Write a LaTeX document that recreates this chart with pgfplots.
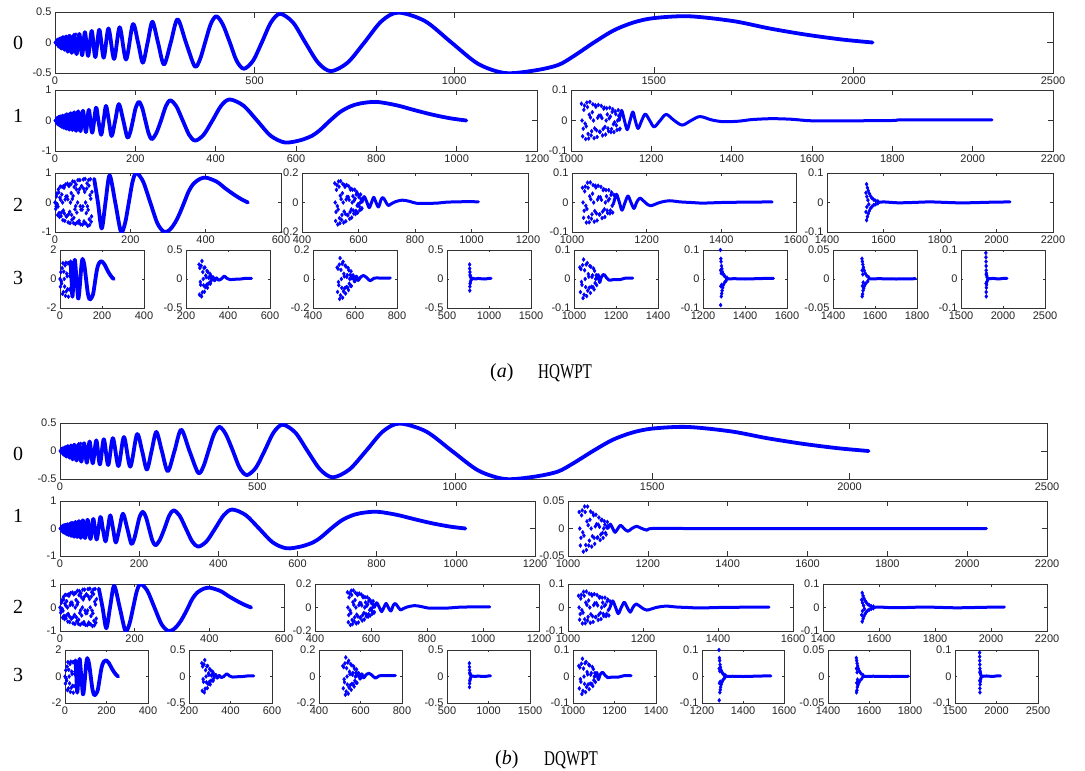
\documentclass[border=0pt]{standalone}
\usepackage{fontspec}
\setmainfont{Liberation Serif}
\newfontfamily\tickfont{Liberation Sans}
\usepackage{graphicx}
\usepackage{pgfplots}
\usepackage{pgfplotstable}
\pgfplotsset{compat=1.18}

% ---------------- approximation signals ----------------
\pgfplotstableread[row sep=\\]{x y\\ 0 0\\ 2.5 -0.018\\ 5 0.018\\ 7.5 -0.006\\ 10 -0.017\\ 12.5 0.043\\ 15 -0.062\\ 17.5 0.069\\ 20 -0.065\\ 22.5 0.038\\ 25 0\\ 27.5 -0.043\\ 30 0.081\\ 32.5 -0.109\\ 35 0.109\\ 37.5 -0.085\\ 40 0.040\\ 42.5 0.022\\ 45 -0.083\\ 47.5 0.129\\ 50 -0.15\\ 52.5 0.135\\ 55 -0.094\\ 57.5 0.026\\ 60 0.053\\}\tZm
\pgfplotstableread[row sep=\\]{x y\\ 0 0\\ 2 0.02\\ 4 -0.03\\ 7 0.05\\ 10 -0.07\\ 13 0.07\\ 16 -0.10\\ 20 0.09\\ 24 -0.12\\ 28 0.10\\ 32 -0.15\\ 37 0.11\\ 42 -0.17\\ 48 0.12\\ 54 -0.19\\ 61 0.14\\ 68 -0.21\\ 75 0.17\\ 83 -0.22\\ 92 0.19\\ 101 -0.24\\ 111 0.21\\ 122 -0.25\\ 134 0.23\\ 148 -0.27\\ 162 0.25\\ 178 -0.28\\ 195 0.30\\ 208 0\\ 220 -0.33\\ 232 0\\ 244 0.34\\ 258 0\\ 273 -0.36\\ 290 0\\ 307 0.38\\ 328 0\\ 350 -0.39\\ 363 -0.28\\ 376 0\\ 390 0.30\\ 404 0.43\\ 420 0.30\\ 438 0\\ 455 -0.30\\ 473 -0.43\\ 496 -0.30\\ 518 0\\ 541 0.33\\ 564 0.47\\ 596 0.33\\ 627 0\\ 659 -0.33\\ 691 -0.47\\ 733 -0.33\\ 775 0\\ 818 0.35\\ 860 0.49\\ 927 0.35\\ 993 0\\ 1060 -0.35\\ 1127 -0.50\\ 1200 -0.46\\ 1260 -0.37\\ 1300 -0.22\\ 1350 0\\ 1400 0.20\\ 1450 0.33\\ 1500 0.40\\ 1588 0.43\\ 1700 0.35\\ 1790 0.23\\ 1880 0.13\\ 1970 0.05\\ 2048 0\\}\tZ
\pgfplotstableread[row sep=\\]{x y\\ 0 0\\ 2 -0.027\\ 4 0.030\\ 6 -0.010\\ 8 -0.025\\ 10 0.071\\ 12 -0.109\\ 14 0.129\\ 16 -0.117\\ 18 0.071\\ 20 0\\ 22 -0.081\\ 24 0.158\\ 26 -0.203\\ 28 0.207\\ 30 -0.163\\}\tOm
\pgfplotstableread[row sep=\\]{x y\\ 0 0\\ 1 0.03\\ 2 -0.04\\ 3.6 0.07\\ 5.2 -0.10\\ 6.8 0.10\\ 8.3 -0.14\\ 10.4 0.13\\ 12.5 -0.17\\ 14.6 0.14\\ 16.6 -0.21\\ 19.2 0.16\\ 21.8 -0.24\\ 25 0.17\\ 28.1 -0.27\\ 31.7 0.20\\ 35.4 -0.30\\ 39 0.24\\ 43.2 -0.31\\ 47.8 0.27\\ 52.5 -0.34\\ 57.7 0.30\\ 63.4 -0.35\\ 69.7 0.32\\ 77 -0.38\\ 84.2 0.35\\ 92.6 -0.40\\ 102 0.42\\ 108 0\\ 115 -0.47\\ 121 0\\ 127 0.48\\ 134 0\\ 141 -0.51\\ 150 0\\ 159 0.54\\ 170 0\\ 180 -0.55\\ 187 -0.40\\ 194 0\\ 201 0.42\\ 209 0.61\\ 217 0.42\\ 225 0\\ 233 -0.42\\ 241 -0.61\\ 252 -0.42\\ 264 0\\ 276 0.47\\ 287 0.66\\ 302 0.47\\ 318 0\\ 334 -0.47\\ 349 -0.66\\ 370 -0.47\\ 392 0\\ 414 0.49\\ 435 0.69\\ 469 0.49\\ 503 0\\ 537 -0.50\\ 572 -0.72\\ 610 -0.65\\ 640 -0.50\\ 660 -0.31\\ 685 0\\ 710 0.28\\ 735 0.46\\ 760 0.56\\ 800 0.61\\ 850 0.50\\ 895 0.34\\ 940 0.19\\ 985 0.07\\ 1024 0\\}\tO
\pgfplotstableread[row sep=\\]{x y\\ 0 0\\ 2 -0.22\\ 4 0.21\\ 6 -0.06\\ 8 -0.14\\ 10 0.34\\ 12 -0.49\\ 14 0.54\\ 16 -0.46\\ 18 0.27\\ 20 0\\ 22 -0.27\\ 24 0.50\\ 26 -0.62\\ 28 0.61\\ 30 -0.47\\ 32 0.21\\ 34 0.11\\ 36 -0.40\\ 38 0.61\\ 40 -0.70\\ 42 0.62\\ 44 -0.42\\ 46 0.12\\ 48 0.22\\ 50 -0.52\\ 52 0.70\\ 54 -0.73\\ 56 0.61\\ 58 -0.34\\ 60 0\\ 62 0.34\\ 64 -0.62\\ 66 0.76\\ 68 -0.74\\ 70 0.55\\ 72 -0.24\\ 74 -0.13\\ 76 0.47\\ 78 -0.70\\ 80 0.80\\ 82 -0.71\\ 84 0.47\\ 86 -0.13\\ 88 -0.25\\ 90 0.57\\ 92 -0.76\\ 94 0.79\\ 96 -0.65\\ 98 0.36\\ 1 0\\ 3 -0.135\\ 5 0.308\\ 7 -0.426\\ 9 0.447\\ 11 -0.355\\ 13 0.167\\ 15 0.090\\ 17 -0.342\\ 19 0.534\\ 21 -0.60\\ 23 0.552\\ 25 -0.372\\ 27 0.102\\ 29 0.202\\ 31 -0.469\\ 33 0.637\\ 35 -0.673\\ 37 0.559\\ 39 -0.315\\ 41 0\\ 43 0.320\\ 45 -0.583\\ 47 0.713\\ 49 -0.694\\ 51 0.525\\ 53 -0.229\\ 55 -0.12\\ 57 0.443\\ 59 -0.676\\ 61 0.76\\ 63 -0.685\\ 65 0.454\\ 67 -0.125\\ 69 -0.242\\ 71 0.554\\ 73 -0.751\\ 75 0.782\\ 77 -0.640\\ 79 0.36\\ 81 0\\ 83 -0.36\\ 85 0.648\\ 87 -0.792\\ 89 0.76\\ 91 -0.568\\ 93 0.248\\ 95 0.128\\ 97 -0.472\\}\tTd
\pgfplotstableread[row sep=\\]{x y\\ 104 0.80\\ 114 0\\ 124 -0.88\\ 134 0\\ 145 0.92\\ 160 0\\ 175 -0.99\\ 186 -0.70\\ 196 0\\ 206 0.71\\ 216 1.00\\ 234 0.71\\ 253 0\\ 272 -0.71\\ 290 -1.00\\ 305 -0.92\\ 318 -0.70\\ 330 -0.40\\ 343 0\\ 355 0.38\\ 368 0.64\\ 385 0.80\\ 402 0.84\\ 430 0.70\\ 452 0.48\\ 475 0.27\\ 495 0.11\\ 512 0\\}\tT
\pgfplotstableread[row sep=\\]{x y\\ 0 0\\ 2 -0.53\\ 4 0.47\\ 6 -0.15\\ 8 -0.31\\ 10 0.75\\ 12 -1.03\\ 14 1.09\\ 16 -0.90\\ 18 0.51\\ 20 0\\ 22 -0.52\\ 24 0.94\\ 26 -1.16\\ 28 1.12\\ 30 -0.85\\ 32 0.37\\ 34 0.19\\ 36 -0.71\\ 38 1.08\\ 40 -1.22\\ 42 1.09\\ 44 -0.72\\ 46 0.20\\ 48 0.38\\}\tHd
\pgfplotstableread[row sep=\\]{x y\\ 50.4 1.22\\ 54.8 0\\ 59.1 -1.22\\ 64.8 0\\ 70.5 1.33\\ 78.5 0\\ 86.4 -1.33\\ 91.6 -0.94\\ 96.9 0\\ 102.2 0.97\\ 107.5 1.39\\ 115.8 0.98\\ 124.1 0\\ 132.5 -0.98\\ 140.9 -1.41\\ 150 -1.30\\ 157.5 -1.05\\ 162.5 -0.62\\ 168.8 0\\ 175 0.57\\ 181 0.93\\ 187.5 1.13\\ 198.5 1.22\\ 212.5 0.99\\ 224 0.65\\ 235 0.37\\ 246 0.14\\ 256 0\\}\tH

% ---------------- detail signals ----------------
\pgfplotstableread[row sep=\\]{x y\\ 1026 0.055\\ 1029 -0.052\\ 1032 0.035\\ 1035 -0.010\\ 1038 -0.019\\ 1041 0.044\\ 1044 -0.059\\ 1047 0.061\\ 1050 -0.049\\ 1053 0.027\\ 1056 0\\ 1059 -0.026\\ 1062 0.045\\ 1065 -0.054\\ 1068 0.051\\ 1071 -0.037\\ 1074 0.016\\ 1077 0.008\\ 1080 -0.028\\ 1083 0.042\\ 1086 -0.046\\ 1089 0.040\\ 1092 -0.026\\ 1095 0.007\\ 1098 0.013\\ 1101 -0.028\\ 1104 0.037\\ 1107 -0.038\\ 1110 0.030\\ 1113 -0.016\\ 1116 0\\ 1119 0.015\\ 1122 -0.027\\ 1027.5 0\\ 1030.5 -0.027\\ 1033.5 0.049\\ 1036.5 -0.061\\ 1039.5 0.059\\ 1042.5 -0.044\\ 1045.5 0.019\\ 1048.5 0.010\\ 1051.5 -0.035\\ 1054.5 0.053\\ 1057.5 -0.058\\ 1060.5 0.050\\ 1063.5 -0.032\\ 1066.5 0.009\\ 1069.5 0.016\\ 1072.5 -0.037\\ 1075.5 0.048\\ 1078.5 -0.049\\ 1081.5 0.039\\ 1084.5 -0.021\\ 1087.5 0\\ 1090.5 0.020\\ 1093.5 -0.035\\ 1096.5 0.042\\ 1099.5 -0.038\\ 1102.5 0.028\\ 1105.5 -0.012\\ 1108.5 -0.006\\ 1111.5 0.021\\ 1114.5 -0.031\\ 1117.5 0.034\\ 1120.5 -0.029\\}\tAoneM
\pgfplotstableread[row sep=\\]{x y\\ 1120 0\\ 1126 0.033\\ 1133 0\\ 1140 -0.030\\ 1147 0\\ 1154 0.028\\ 1160 0\\ 1167 -0.026\\ 1176 0\\ 1185 0.021\\ 1196 0\\ 1207 -0.021\\ 1222 0\\ 1237 0.020\\ 1257 0\\ 1277 -0.015\\ 1299 0\\ 1321 0.013\\ 1350 0.002\\ 1380 -0.004\\ 1420 -0.002\\ 1450 0.003\\ 1500 0.006\\ 1550 0.004\\ 1600 -0.001\\ 1700 -0.001\\ 1800 0\\ 1820 0.002\\ 1900 0.002\\ 2048 0.002\\}\tAoneL
\pgfplotstableread[row sep=\\]{x y\\ 1028 0.030\\ 1031 -0.031\\ 1034 0.024\\ 1037 -0.007\\ 1040 -0.013\\ 1043 0.030\\ 1046 -0.039\\ 1049 0.040\\ 1052 -0.031\\ 1055 0.016\\ 1058 0\\ 1061 -0.014\\ 1064 0.024\\ 1067 -0.028\\ 1070 0.025\\ 1073 -0.017\\ 1076 0.007\\ 1079 0.003\\ 1082 -0.011\\ 1085 0.016\\ 1088 -0.017\\ 1091 0.013\\ 1094 -0.008\\ 1097 0.002\\ 1100 0.004\\ 1029.5 0\\ 1032.5 -0.017\\ 1035.5 0.033\\ 1038.5 -0.042\\ 1041.5 0.040\\ 1044.5 -0.030\\ 1047.5 0.013\\ 1050.5 0.006\\ 1053.5 -0.022\\ 1056.5 0.031\\ 1059.5 -0.033\\ 1062.5 0.028\\ 1065.5 -0.017\\ 1068.5 0.004\\ 1071.5 0.008\\ 1074.5 -0.016\\ 1077.5 0.020\\ 1080.5 -0.021\\ 1083.5 0.015\\ 1086.5 -0.008\\ 1089.5 0\\ 1092.5 0.007\\ 1095.5 -0.011\\ 1098.5 0.012\\}\tBoneM
\pgfplotstableread[row sep=\\]{x y\\ 1100 0\\ 1106 0.008\\ 1112 0\\ 1118 -0.007\\ 1125 0\\ 1132 0.006\\ 1140 0\\ 1150 -0.005\\ 1160 0\\ 1172 0.004\\ 1185 0\\ 1198 -0.003\\ 1210 0\\ 1300 0\\ 1500 0\\ 2048 0\\}\tBoneL
\pgfplotstableread[row sep=\\]{x y\\ 516 0.13\\ 519 -0.125\\ 522 0.086\\ 525 -0.024\\ 528 -0.047\\ 531 0.107\\ 534 -0.141\\ 537 0.145\\ 540 -0.117\\ 543 0.063\\ 546 0\\ 549 -0.061\\ 552 0.106\\ 555 -0.127\\ 558 0.119\\ 561 -0.086\\ 564 0.037\\ 567 0.018\\ 570 -0.065\\ 573 0.094\\ 576 -0.102\\ 579 0.087\\ 582 -0.055\\ 585 0.014\\ 588 0.026\\ 591 -0.057\\ 594 0.071\\ 597 -0.069\\ 600 0.053\\ 603 -0.027\\ 606 0\\ 609 0.023\\ 612 -0.039\\ 517.5 0\\ 520.5 -0.064\\ 523.5 0.119\\ 526.5 -0.149\\ 529.5 0.143\\ 532.5 -0.106\\ 535.5 0.046\\ 538.5 0.023\\ 541.5 -0.084\\ 544.5 0.125\\ 547.5 -0.136\\ 550.5 0.118\\ 553.5 -0.077\\ 556.5 0.020\\ 559.5 0.038\\ 562.5 -0.085\\ 565.5 0.110\\ 568.5 -0.111\\ 571.5 0.087\\ 574.5 -0.047\\ 577.5 0\\ 580.5 0.043\\ 583.5 -0.075\\ 586.5 0.087\\ 589.5 -0.078\\ 592.5 0.055\\ 595.5 -0.022\\ 598.5 -0.011\\ 601.5 0.037\\ 604.5 -0.052\\ 607.5 0.054\\ 610.5 -0.045\\}\tAtwoBM
\pgfplotstableread[row sep=\\]{x y\\ 612 0\\ 620 0.04\\ 630 0\\ 638 -0.035\\ 646 0\\ 654 0.035\\ 662 0\\ 671 -0.03\\ 680 0.02\\ 687 0.033\\ 695 0.01\\ 705 -0.02\\ 715 -0.01\\ 730 0.005\\ 755 0.016\\ 780 0.008\\ 805 -0.005\\ 840 -0.006\\ 880 -0.004\\ 910 0.002\\ 960 0.005\\ 1024 0.005\\}\tAtwoBL
\pgfplotstableread[row sep=\\]{x y\\ 1028 0.050\\ 1031 -0.052\\ 1034 0.038\\ 1037 -0.011\\ 1040 -0.022\\ 1043 0.050\\ 1046 -0.067\\ 1049 0.068\\ 1052 -0.055\\ 1055 0.030\\ 1058 0\\ 1061 -0.029\\ 1064 0.051\\ 1067 -0.061\\ 1070 0.057\\ 1073 -0.041\\ 1076 0.018\\ 1079 0.009\\ 1082 -0.031\\ 1085 0.045\\ 1088 -0.049\\ 1091 0.042\\ 1094 -0.027\\ 1097 0.007\\ 1100 0.012\\ 1103 -0.027\\ 1106 0.034\\ 1109 -0.034\\ 1112 0.026\\ 1029.5 0\\ 1032.5 -0.028\\ 1035.5 0.054\\ 1038.5 -0.068\\ 1041.5 0.067\\ 1044.5 -0.050\\ 1047.5 0.021\\ 1050.5 0.011\\ 1053.5 -0.040\\ 1056.5 0.059\\ 1059.5 -0.065\\ 1062.5 0.057\\ 1065.5 -0.037\\ 1068.5 0.010\\ 1071.5 0.018\\ 1074.5 -0.040\\ 1077.5 0.053\\ 1080.5 -0.053\\ 1083.5 0.042\\ 1086.5 -0.023\\ 1089.5 0\\ 1092.5 0.021\\ 1095.5 -0.036\\ 1098.5 0.042\\ 1101.5 -0.037\\ 1104.5 0.026\\ 1107.5 -0.011\\ 1110.5 -0.005\\}\tAtwoCM
\pgfplotstableread[row sep=\\]{x y\\ 1112 0\\ 1119 0.028\\ 1127 0\\ 1134 -0.026\\ 1142 0\\ 1150 0.022\\ 1158 0\\ 1166 -0.020\\ 1173 0\\ 1182 0.015\\ 1196 0\\ 1210 -0.011\\ 1235 0\\ 1260 0.006\\ 1290 0.002\\ 1320 0\\ 1350 -0.002\\ 1400 0\\ 1450 0.001\\ 1536 0.002\\}\tAtwoCL
\pgfplotstableread[row sep=\\]{x y\\ 1540 0.062\\ 1543 0.050\\ 1546 0.040\\ 1550 0.030\\ 1554 0.022\\ 1559 0.015\\ 1565 0.010\\ 1572 0.006\\ 1580 0.004\\ 1540 -0.060\\ 1543 -0.048\\ 1546 -0.038\\ 1550 -0.028\\ 1554 -0.020\\ 1559 -0.014\\ 1565 -0.009\\ 1572 -0.006\\ 1580 -0.003\\ 1538 0.033\\ 1538 -0.032\\ 1541 0.020\\ 1541 -0.015\\ 1545 0.008\\ 1548 -0.006\\}\tAtwoDM
\pgfplotstableread[row sep=\\]{x y\\ 1580 0\\ 1600 0.002\\ 1650 -0.001\\ 1700 0\\ 1760 0.002\\ 1800 0.001\\ 1860 -0.001\\ 1900 -0.001\\ 1980 0.001\\ 2048 0.002\\}\tAtwoDL
\pgfplotstableread[row sep=\\]{x y\\ 262 0.25\\ 264 -0.27\\ 266 0.19\\ 268 -0.05\\ 270 -0.10\\ 272 0.23\\ 274 -0.30\\ 276 0.31\\ 278 -0.23\\ 280 0.12\\ 282 0\\ 284 -0.11\\ 286 0.19\\ 288 -0.22\\ 290 0.20\\ 292 -0.14\\ 294 0.06\\ 296 0.03\\ 298 -0.10\\ 300 0.14\\ 302 -0.15\\ 304 0.12\\ 306 -0.08\\ 308 0.02\\ 310 0.03\\ 312 -0.07\\ 314 0.09\\ 316 -0.08\\ 318 0.06\\ 320 -0.03\\}\tAthrBM
\pgfplotstableread[row sep=\\]{x y\\ 320 0\\ 328 0.04\\ 336 -0.03\\ 345 0.02\\ 355 -0.02\\ 368 0\\ 382 0.05\\ 395 0.01\\ 410 -0.01\\ 430 -0.005\\ 460 0\\ 480 0.01\\ 512 0.01\\}\tAthrBL
\pgfplotstableread[row sep=\\]{x y\\ 515 0.080\\ 517 -0.089\\ 519 0.071\\ 521 -0.021\\ 523 -0.043\\ 525 0.099\\ 527 -0.138\\ 529 0.144\\ 531 -0.113\\ 533 0.063\\ 535 0\\ 537 -0.061\\ 539 0.105\\ 541 -0.129\\ 543 0.119\\ 545 -0.085\\ 547 0.036\\ 549 0.018\\ 551 -0.064\\ 553 0.093\\ 555 -0.100\\ 557 0.086\\ 559 -0.055\\ 561 0.014\\ 563 0.027\\ 565 -0.059\\ 567 0.076\\ 569 -0.076\\ 571 0.059\\ 573 -0.032\\ 575 0\\ 577 0.028\\ 579 -0.047\\ 581 0.053\\ 583 -0.048\\}\tAthrCM
\pgfplotstableread[row sep=\\]{x y\\ 583 0\\ 590 0.03\\ 598 -0.02\\ 606 0.02\\ 615 -0.01\\ 625 0.01\\ 640 0.024\\ 655 0.01\\ 672 -0.012\\ 690 0.005\\ 710 0.007\\ 740 0.006\\ 768 0.007\\}\tAthrCL
\pgfplotstableread[row sep=\\]{x y\\ 769 0.25\\ 770 0.18\\ 771 -0.20\\ 772 -0.13\\ 773 0.12\\ 774 0.07\\ 775 -0.08\\ 777 0.05\\ 779 -0.05\\ 782 0.03\\ 786 -0.02\\ 790 0.02\\}\tAthrDM
\pgfplotstableread[row sep=\\]{x y\\ 790 0\\ 810 0.01\\ 840 0\\ 870 0.01\\ 900 0.005\\ 950 0\\ 1000 0.01\\ 1024 0.01\\}\tAthrDL
\pgfplotstableread[row sep=\\]{x y\\ 1028 0.040\\ 1030.5 -0.045\\ 1033 0.034\\ 1035.5 -0.010\\ 1038 -0.020\\ 1040.5 0.048\\ 1043 -0.066\\ 1045.5 0.067\\ 1048 -0.054\\ 1050.5 0.030\\ 1053 0\\ 1055.5 -0.028\\ 1058 0.050\\ 1060.5 -0.059\\ 1063 0.055\\ 1065.5 -0.040\\ 1068 0.017\\ 1070.5 0.008\\ 1073 -0.030\\ 1075.5 0.045\\ 1078 -0.048\\ 1080.5 0.042\\ 1083 -0.027\\ 1085.5 0.007\\ 1088 0.013\\ 1090.5 -0.028\\ 1093 0.036\\ 1095.5 -0.036\\ 1098 0.028\\ 1100.5 -0.014\\ 1103 0\\ 1105.5 0.013\\ 1108 -0.021\\}\tAthrEM
\pgfplotstableread[row sep=\\]{x y\\ 1108 0\\ 1115 0.015\\ 1122 -0.012\\ 1130 0.006\\ 1142 0.016\\ 1155 0.004\\ 1167 -0.004\\ 1190 -0.002\\ 1220 -0.002\\ 1245 0.003\\ 1280 0.003\\}\tAthrEL
\pgfplotstableread[row sep=\\]{x y\\ 1283 0.10\\ 1284 -0.09\\ 1285 0.07\\ 1286 0.06\\ 1287 -0.06\\ 1288 0.045\\ 1289 -0.05\\ 1290 0.035\\ 1291 -0.04\\ 1292 0.025\\ 1294 -0.03\\ 1296 0.018\\ 1298 -0.02\\ 1300 0.012\\ 1303 -0.012\\ 1306 0.008\\ 1310 -0.006\\ 1315 0.004\\ 1287 0.02\\ 1289 -0.02\\ 1284 0.03\\ 1285 -0.025\\}\tAthrFM
\pgfplotstableread[row sep=\\]{x y\\ 1310 0\\ 1350 0.001\\ 1400 0\\ 1450 0.001\\ 1500 0.002\\ 1536 0.002\\}\tAthrFL
\pgfplotstableread[row sep=\\]{x y\\ 1538 0.035\\ 1539 -0.030\\ 1540 0.030\\ 1541 -0.026\\ 1542 0.025\\ 1543 -0.020\\ 1545 0.020\\ 1546 -0.016\\ 1548 0.015\\ 1550 -0.012\\ 1553 0.010\\ 1556 -0.008\\ 1560 0.006\\ 1565 -0.004\\ 1570 0.003\\ 1539 0.015\\ 1540 -0.012\\ 1542 0.008\\ 1544 -0.006\\}\tAthrGM
\pgfplotstableread[row sep=\\]{x y\\ 1570 0\\ 1620 0.0005\\ 1700 0\\ 1792 0.0005\\}\tAthrGL
\pgfplotstableread[row sep=\\]{x y\\ 1796 0.090\\ 1797 0.075\\ 1798 0.060\\ 1799 0.045\\ 1800 0.030\\ 1801 -0.060\\ 1800 -0.045\\ 1802 -0.030\\ 1803 0.020\\ 1804 -0.020\\ 1806 0.012\\ 1808 -0.010\\ 1811 0.006\\ 1815 -0.004\\ 1799 -0.015\\ 1801 0.015\\}\tAthrHM
\pgfplotstableread[row sep=\\]{x y\\ 1815 0\\ 1880 0.002\\ 1950 0\\ 2000 0.002\\ 2048 0.002\\}\tAthrHL

\pgfplotsset{
  base/.style={scale only axis, anchor=north west,
    axis line style={black!80, line width=0.5pt},
    tick style={black!80, line width=0.5pt},
    tick align=inside,
    tick label style={font=\tickfont\fontsize{11}{12}\selectfont, text=black!85},
    /pgf/number format/assume math mode=true,
    /pgf/number format/1000 sep={},
    /pgf/number format/fixed,
    scaled ticks=false, enlargelimits=false},
  box/.style n args={4}{at={(#1pt,-#2pt)}, width=#3pt, height=#4pt},
  cur/.style={blue, line width=3.8pt, line join=round, line cap=round, mark=none, smooth},
  tail/.style={blue, line width=3pt, line join=round, line cap=round, mark=none, smooth},
  mk/.style={blue, only marks, mark=diamond*, mark size=2pt},
  mks/.style={blue, only marks, mark=diamond*, mark size=1.6pt},
  yA/.style={ymin=-0.5, ymax=0.5, ytick={-0.5,0,0.5}},
  yB/.style={ymin=-1, ymax=1, ytick={-1,0,1}},
  yC/.style={ymin=-0.1, ymax=0.1, ytick={-0.1,0,0.1}},
  yD/.style={ymin=-0.05, ymax=0.05, ytick={-0.05,0,0.05}},
  yE/.style={ymin=-0.2, ymax=0.2, ytick={-0.2,0,0.2}},
  yF/.style={ymin=-2, ymax=2, ytick={-2,0,2}},
}

\begin{document}
\begin{tikzpicture}
\fill[white] (0,0) rectangle (1085pt,-771pt);
\useasboundingbox (0,0) rectangle (1085pt,-771pt);

% ======================= (a) =======================
\begin{axis}[base, box={55}{12}{998}{61}, xmin=0, xmax=2500, xtick={0,500,...,2500}, yA, major tick length=6pt]
\addplot[mks] table {\tZm};
\addplot[cur] table {\tZ};
\end{axis}
\begin{axis}[base, box={55}{90}{482}{61}, xmin=0, xmax=1200, xtick={0,200,...,1200}, yB, major tick length=5pt]
\addplot[mks] table {\tOm};
\addplot[cur] table {\tO};
\end{axis}
\begin{axis}[base, box={571}{90}{482}{61}, xmin=1000, xmax=2200, xtick={1000,1200,...,2200}, yC, major tick length=5pt]
\addplot[mk] table {\tAoneM};
\addplot[tail] table {\tAoneL};
\end{axis}
\begin{axis}[base, box={55}{173}{226}{59}, xmin=0, xmax=600, xtick={0,200,...,600}, yB, major tick length=3pt]
\addplot[mk] table {\tTd};
\addplot[cur] table {\tT};
\end{axis}
\begin{axis}[base, box={302}{173}{226}{59}, xmin=400, xmax=1200, xtick={400,600,...,1200}, yE, major tick length=3pt]
\addplot[mk] table {\tAtwoBM};
\addplot[tail] table {\tAtwoBL};
\end{axis}
\begin{axis}[base, box={572}{173}{224}{59}, xmin=1000, xmax=1600, xtick={1000,1200,...,1600}, yC, major tick length=3pt]
\addplot[mk] table {\tAtwoCM};
\addplot[tail] table {\tAtwoCL};
\end{axis}
\begin{axis}[base, box={827}{173}{226}{59}, xmin=1400, xmax=2200, xtick={1400,1600,...,2200}, yC, major tick length=3pt]
\addplot[mk] table {\tAtwoDM};
\addplot[tail] table {\tAtwoDL};
\end{axis}
% level 3 (a)
\begin{axis}[base, box={60}{250}{84}{58}, xmin=0, xmax=400, xtick={0,200,400}, yF, major tick length=2pt]
\addplot[mk] table {\tHd};
\addplot[cur] table {\tH};
\end{axis}
\begin{axis}[base, box={186}{250}{84}{58}, xmin=200, xmax=600, xtick={200,400,600}, yA, major tick length=2pt]
\addplot[mk] table {\tAthrBM};
\addplot[tail] table {\tAthrBL};
\end{axis}
\begin{axis}[base, box={313}{250}{84}{58}, xmin=400, xmax=800, xtick={400,600,800}, yE, major tick length=2pt]
\addplot[mk] table {\tAthrCM};
\addplot[tail] table {\tAthrCL};
\end{axis}
\begin{axis}[base, box={447}{250}{84}{58}, xmin=500, xmax=1500, xtick={500,1000,1500}, yA, major tick length=2pt]
\addplot[mk] table {\tAthrDM};
\addplot[tail] table {\tAthrDL};
\end{axis}
\begin{axis}[base, box={574}{250}{84}{58}, xmin=1000, xmax=1400, xtick={1000,1200,1400}, yC, major tick length=2pt]
\addplot[mk] table {\tAthrEM};
\addplot[tail] table {\tAthrEL};
\end{axis}
\begin{axis}[base, box={703}{250}{84}{58}, xmin=1200, xmax=1600, xtick={1200,1400,1600}, yC, major tick length=2pt]
\addplot[mk] table {\tAthrFM};
\addplot[tail] table {\tAthrFL};
\end{axis}
\begin{axis}[base, box={833}{250}{84}{58}, xmin=1400, xmax=1800, xtick={1400,1600,1800}, yD, major tick length=2pt]
\addplot[mk] table {\tAthrGM};
\addplot[tail] table {\tAthrGL};
\end{axis}
\begin{axis}[base, box={961}{250}{84}{58}, xmin=1500, xmax=2500, xtick={1500,2000,2500}, yC, major tick length=2pt]
\addplot[mk] table {\tAthrHM};
\addplot[tail] table {\tAthrHL};
\end{axis}

% ======================= (b) =======================
\begin{axis}[base, box={60}{423}{987}{56}, xmin=0, xmax=2500, xtick={0,500,...,2500}, yA, major tick length=6pt]
\addplot[mks] table {\tZm};
\addplot[cur] table {\tZ};
\end{axis}
\begin{axis}[base, box={60}{501}{475}{55}, xmin=0, xmax=1200, xtick={0,200,...,1200}, yB, major tick length=5pt]
\addplot[mks] table {\tOm};
\addplot[cur] table {\tO};
\end{axis}
\begin{axis}[base, box={568}{501}{479}{55}, xmin=1000, xmax=2200, xtick={1000,1200,...,2200}, yD, major tick length=5pt]
\addplot[mk] table {\tBoneM};
\addplot[tail] table {\tBoneL};
\end{axis}
\begin{axis}[base, box={60}{584}{224}{47}, xmin=0, xmax=600, xtick={0,200,...,600}, yB, major tick length=3pt]
\addplot[mk] table {\tTd};
\addplot[cur] table {\tT};
\end{axis}
\begin{axis}[base, box={315}{584}{224}{47}, xmin=400, xmax=1200, xtick={400,600,...,1200}, yE, major tick length=3pt]
\addplot[mk] table {\tAtwoBM};
\addplot[tail] table {\tAtwoBL};
\end{axis}
\begin{axis}[base, box={568}{584}{225}{47}, xmin=1000, xmax=1600, xtick={1000,1200,...,1600}, yC, major tick length=3pt]
\addplot[mk] table {\tAtwoCM};
\addplot[tail] table {\tAtwoCL};
\end{axis}
\begin{axis}[base, box={823}{584}{224}{47}, xmin=1400, xmax=2200, xtick={1400,1600,...,2200}, yC, major tick length=3pt]
\addplot[mk] table {\tAtwoDM};
\addplot[tail] table {\tAtwoDL};
\end{axis}
% level 3 (b)
\begin{axis}[base, box={65}{650}{83}{53}, xmin=0, xmax=400, xtick={0,200,400}, yF, major tick length=2pt]
\addplot[mk] table {\tHd};
\addplot[cur] table {\tH};
\end{axis}
\begin{axis}[base, box={189}{650}{83}{53}, xmin=200, xmax=600, xtick={200,400,600}, yA, major tick length=2pt]
\addplot[mk] table {\tAthrBM};
\addplot[tail] table {\tAthrBL};
\end{axis}
\begin{axis}[base, box={319}{650}{83}{53}, xmin=400, xmax=800, xtick={400,600,800}, yE, major tick length=2pt]
\addplot[mk] table {\tAthrCM};
\addplot[tail] table {\tAthrCL};
\end{axis}
\begin{axis}[base, box={447}{650}{83}{53}, xmin=500, xmax=1500, xtick={500,1000,1500}, yA, major tick length=2pt]
\addplot[mk] table {\tAthrDM};
\addplot[tail] table {\tAthrDL};
\end{axis}
\begin{axis}[base, box={573}{650}{83}{53}, xmin=1000, xmax=1400, xtick={1000,1200,1400}, yC, major tick length=2pt]
\addplot[mk] table {\tAthrEM};
\addplot[tail] table {\tAthrEL};
\end{axis}
\begin{axis}[base, box={702}{650}{82}{53}, xmin=1200, xmax=1600, xtick={1200,1400,1600}, yC, major tick length=2pt]
\addplot[mk] table {\tAthrFM};
\addplot[tail] table {\tAthrFL};
\end{axis}
\begin{axis}[base, box={828}{650}{82}{53}, xmin=1400, xmax=1800, xtick={1400,1600,1800}, yD, major tick length=2pt]
\addplot[mk] table {\tAthrGM};
\addplot[tail] table {\tAthrGL};
\end{axis}
\begin{axis}[base, box={955}{650}{83}{53}, xmin=1500, xmax=2500, xtick={1500,2000,2500}, yC, major tick length=2pt]
\addplot[mk] table {\tAthrHM};
\addplot[tail] table {\tAthrHL};
\end{axis}

% ======================= labels =======================
\begin{scope}[every node/.style={inner sep=0pt, font=\fontsize{20}{20}\selectfont}]
\node at (18pt,-43pt) {0};
\node at (18pt,-116pt) {1};
\node at (18pt,-205pt) {2};
\node at (18pt,-278pt) {3};
\node at (18pt,-454pt) {0};
\node at (18pt,-516pt) {1};
\node at (18pt,-607pt) {2};
\node at (18pt,-675pt) {3};
\node[anchor=west] at (490pt,-373pt) {(\textit{a})};
\node[anchor=west] at (538pt,-373pt) {\scalebox{0.72}[1]{\fontsize{21}{21}\selectfont HQWPT}};
\node[anchor=west] at (495pt,-760pt) {(\textit{b})};
\node[anchor=west] at (544pt,-760pt) {\scalebox{0.72}[1]{\fontsize{21}{21}\selectfont DQWPT}};
\end{scope}
\end{tikzpicture}
\end{document}
